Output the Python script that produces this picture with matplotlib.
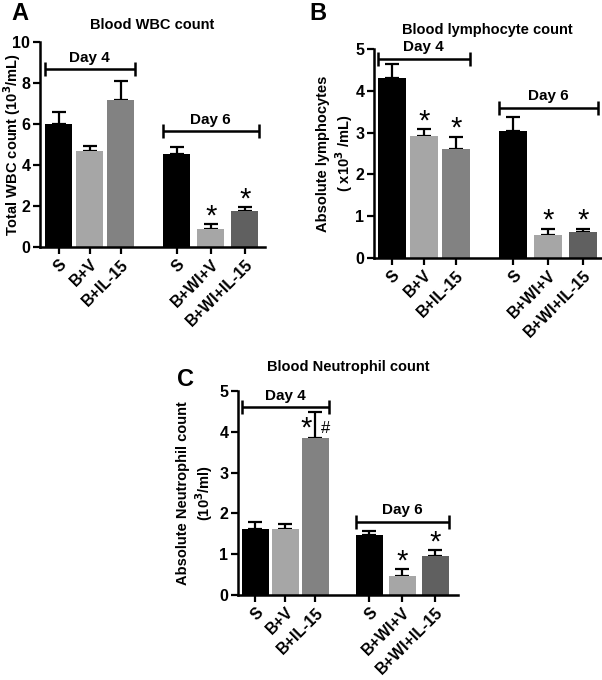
import matplotlib
matplotlib.use("Agg")
import matplotlib.pyplot as plt

plt.rcParams['font.family'] = ['Liberation Sans', 'DejaVu Sans']
plt.rcParams['font.weight'] = 'bold'

# Declare data
groups = ["S", "B+V", "B+IL-15", "S", "B+WI+V", "B+WI+IL-15"]
wbc_mean = [6.0, 4.68, 7.15, 4.55, 0.9, 1.75]
wbc_err = [0.58, 0.27, 0.95, 0.35, 0.2, 0.2]
lym_mean = [4.3, 2.92, 2.6, 3.05, 0.55, 0.63]
lym_err = [0.33, 0.16, 0.3, 0.33, 0.15, 0.07]
neu_mean = [1.62, 1.62, 3.85, 1.48, 0.47, 0.95]
neu_err = [0.18, 0.13, 0.63, 0.08, 0.16, 0.15]
wbc_stars = ["", "", "", "", "*", "*"]
lym_stars = ["", "*", "*", "", "*", "*"]
neu_stars = ["", "", "", "", "*", "*"]

pos = [0, 1, 2, 3.8, 4.9, 6.0]
colors = ["#000000", "#a6a6a6", "#828282", "#000000", "#a6a6a6", "#606060"]

# Declare figure
fig = plt.figure(figsize=(6.02, 6.80), dpi=100)
W, H = 602.0, 680.0


def px_axes(left, right, top, bottom):
    return fig.add_axes([left / W, 1 - bottom / H, (right - left) / W, (bottom - top) / H])


def draw_panel(ax, means, errs, stars, ymax, xlim, day4_y, day6_y, title, ylabel, title_y, ylabel_x):
    ax.bar(pos, means, width=0.88, color=colors, zorder=2)
    ax.errorbar(pos, means, yerr=[[0] * len(errs), errs], fmt='none', ecolor='black',
                elinewidth=1.6, capsize=5, capthick=1.6, zorder=1)
    for p, m, e, s in zip(pos, means, errs, stars):
        if s:
            ax.text(p, m + e - ymax * 0.03, s, ha='center', va='bottom', fontsize=21,
                    fontweight='normal')
    ax.set_xlim(*xlim)
    ax.set_ylim(0, ymax)
    ax.set_xticks(pos)
    ax.set_xticklabels(groups, rotation=45, ha='right', rotation_mode='anchor',
                       fontsize=9.5, fontweight='bold')
    ax.tick_params(axis='both', width=1.6, length=5, labelsize=11.5)
    ax.tick_params(axis='x', pad=2)
    ax.tick_params(axis='y', pad=2)
    for lbl in ax.get_yticklabels():
        lbl.set_fontweight('bold')
    for sp in ['top', 'right']:
        ax.spines[sp].set_visible(False)
    for sp in ['left', 'bottom']:
        ax.spines[sp].set_linewidth(1.8)
    ## Day brackets
    for (x0, x1), y, lab in [((-0.45, 2.45), day4_y, "Day 4"), ((3.35, 6.45), day6_y, "Day 6")]:
        ax.errorbar([(x0 + x1) / 2], [y], xerr=[(x1 - x0) / 2], fmt='none', ecolor='black',
                    elinewidth=1.8, capsize=5, capthick=1.8, clip_on=False)
        ax.text((x0 + x1) / 2, y + ymax * 0.02, lab, ha='center', va='bottom', fontsize=11,
                fontweight='bold')
    ax.set_ylabel(ylabel, fontsize=10.5, fontweight='bold')
    ax.yaxis.label.set_va('center')
    ax.yaxis.set_label_coords(ylabel_x, 0.5)
    ax.text(0.5, title_y, title, transform=ax.transAxes, ha='center', va='center',
            fontsize=10.5, fontweight='bold')


# Panel A
axA = px_axes(40, 265, 42, 247)
draw_panel(axA, wbc_mean, wbc_err, wbc_stars, 10, (-0.6, 6.65), 8.7, 5.65,
           "Blood WBC count", "Total WBC count (10$^{3}$/mL)", 1.083, -0.125)
fig.text(20 / W, 1 - 13 / H, "A", fontsize=17, fontweight='bold', ha='center', va='center')

# Panel B
axB = px_axes(374, 601, 49, 258)
draw_panel(axB, lym_mean, lym_err, lym_stars, 5, (-0.56, 6.55), 4.77, 3.6,
           "Blood lymphocyte count", "Absolute lymphocytes\n( x10$^{3}$ /mL)", 1.09, -0.17)
fig.text(318 / W, 1 - 13 / H, "B", fontsize=17, fontweight='bold', ha='center', va='center')

# Panel C
axC = px_axes(238, 458, 391, 595)
draw_panel(axC, neu_mean, neu_err, neu_stars, 5, (-0.58, 6.75), 4.6, 1.8,
           "Blood Neutrophil count", "Absolute Neutrophil count\n(10$^{3}$/ml)", 1.12, -0.195)
axC.text(pos[2] - 0.3, 4.08, "*", ha='center', va='center', fontsize=21, fontweight='normal')
axC.text(pos[2] + 0.35, 4.08, "#", ha='center', va='center', fontsize=12, fontweight='normal')
fig.text(185 / W, 1 - 380 / H, "C", fontsize=17, fontweight='bold', ha='center', va='center')

plt.savefig("out.png", dpi=100)
